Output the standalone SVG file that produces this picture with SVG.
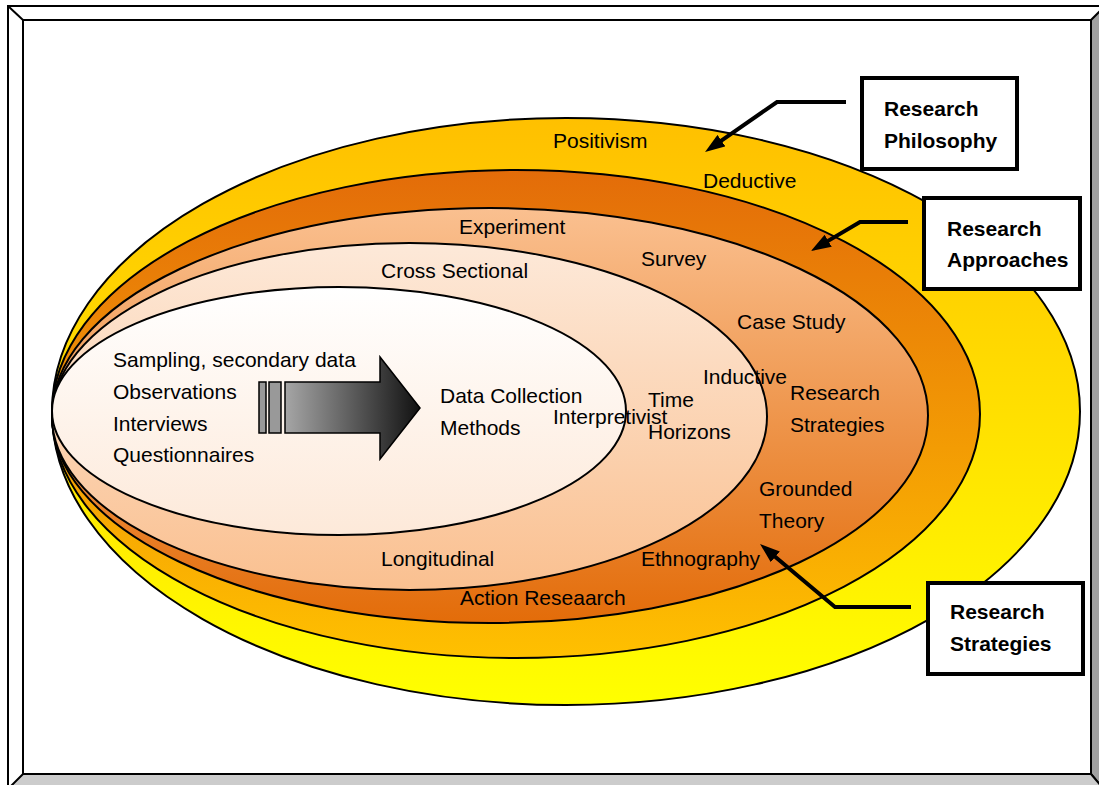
<svg xmlns="http://www.w3.org/2000/svg" width="1099" height="785" viewBox="0 0 1099 785">
<defs>
<style>
.t{font-family:"Liberation Sans",Arial,sans-serif;font-size:21px;fill:#000}
.b{font-family:"Liberation Sans",Arial,sans-serif;font-size:21px;font-weight:bold;fill:#000}
.ring{stroke:#000;stroke-width:2}
.box{fill:#fff;stroke:#000;stroke-width:4}
.con{fill:none;stroke:#000;stroke-width:4;stroke-linejoin:miter}
.fr{stroke:#000;stroke-width:2}
</style>
<linearGradient id="g1" x1="0" y1="0" x2="0" y2="1"><stop offset="0" stop-color="#FFC000"/><stop offset="1" stop-color="#FFFF00"/></linearGradient>
<linearGradient id="g2" x1="0" y1="0" x2="0" y2="1"><stop offset="0" stop-color="#E36C09"/><stop offset="1" stop-color="#FFC000"/></linearGradient>
<linearGradient id="g3" x1="0" y1="0" x2="0" y2="1"><stop offset="0" stop-color="#FAC090"/><stop offset="1" stop-color="#E36C09"/></linearGradient>
<linearGradient id="g4" x1="0" y1="0" x2="0" y2="1"><stop offset="0" stop-color="#FDE9D9"/><stop offset="1" stop-color="#FAC090"/></linearGradient>
<linearGradient id="g5" x1="0" y1="0" x2="0" y2="1"><stop offset="0" stop-color="#FFFFFF"/><stop offset="1" stop-color="#FDE9D9"/></linearGradient>
<linearGradient id="ga" x1="0" y1="0" x2="1" y2="0"><stop offset="0" stop-color="#A6A6A6"/><stop offset="1" stop-color="#111111"/></linearGradient>
<marker id="ah" markerUnits="userSpaceOnUse" markerWidth="20" markerHeight="14" viewBox="0 0 20 14" refX="8" refY="7" orient="auto"><path d="M0,0 L20,7 L0,14 z" fill="#000"/></marker>
</defs>

<g id="frame">
<rect x="8" y="6" width="1110" height="800" fill="#fff" class="fr"/>
<polygon points="1091,20 1118,-7 1118,806 1091,774" fill="#A0A0A0" class="fr"/>
<polygon points="23,774 1091,774 1118,806 -9,806" fill="#CCCCCC" class="fr"/>
<line x1="8" y1="6" x2="23" y2="20" class="fr"/>
<rect x="23" y="20" width="1068" height="754" fill="#fff" class="fr"/>
</g>

<g id="rings">
<ellipse id="ring-philosophy" class="ring" cx="566" cy="411.5" rx="514" ry="293.5" fill="url(#g1)"/>
<ellipse id="ring-approaches" class="ring" cx="516" cy="414" rx="464" ry="244" fill="url(#g2)"/>
<ellipse id="ring-strategies" class="ring" cx="490" cy="415.5" rx="438" ry="207.5" fill="url(#g3)"/>
<ellipse id="ring-time" class="ring" cx="409.5" cy="416.5" rx="357.5" ry="173.5" fill="url(#g4)"/>
<ellipse id="ring-methods" class="ring" cx="339" cy="411" rx="287" ry="124" fill="url(#g5)"/>
</g>

<g id="data-arrow">
<rect x="259" y="382" width="7" height="51" fill="#999" stroke="#000" stroke-width="1.5"/>
<rect x="269" y="382" width="12" height="51" fill="#999" stroke="#000" stroke-width="1.5"/>
<polygon points="285,382 380,382 380,357 420,408 380,459 380,433 285,433" fill="url(#ga)" stroke="#000" stroke-width="1.5"/>
</g>

<g id="labels">
<text class="t" x="553" y="148">Positivism</text>
<text class="t" x="703" y="188">Deductive</text>
<text class="t" x="459" y="234">Experiment</text>
<text class="t" x="641" y="266">Survey</text>
<text class="t" x="381" y="278">Cross Sectional</text>
<text class="t" x="737" y="329">Case Study</text>
<text class="t" x="113" y="367">Sampling, secondary data</text>
<text class="t" x="113" y="399">Observations</text>
<text class="t" x="113" y="431">Interviews</text>
<text class="t" x="113" y="462">Questionnaires</text>
<text class="t" x="703" y="384">Inductive</text>
<text class="t" x="790" y="400">Research</text>
<text class="t" x="790" y="432">Strategies</text>
<text class="t" x="440" y="403">Data Collection</text>
<text class="t" x="440" y="435">Methods</text>
<text class="t" x="648" y="407">Time</text>
<text class="t" x="553" y="424">Interpretivist</text>
<text class="t" x="648" y="439">Horizons</text>
<text class="t" x="759" y="496">Grounded</text>
<text class="t" x="759" y="528">Theory</text>
<text class="t" x="381" y="566">Longitudinal</text>
<text class="t" x="641" y="566">Ethnography</text>
<text class="t" x="460" y="605">Action Reseaarch</text>
</g>

<g id="connectors">
<polyline class="con" points="846,102 777,102 714.9,145.2" marker-end="url(#ah)"/>
<polyline class="con" points="908,222 860,222 821.3,244.9" marker-end="url(#ah)"/>
<polyline class="con" points="911,607 835,607 769.2,551.7" marker-end="url(#ah)"/>
</g>

<g id="box-philosophy">
<rect class="box" x="862" y="78" width="155" height="91"/>
<text class="b" x="884" y="116">Research</text>
<text class="b" x="884" y="148">Philosophy</text>
</g>
<g id="box-approaches">
<rect class="box" x="924" y="198" width="156" height="91"/>
<text class="b" x="947" y="236">Research</text>
<text class="b" x="947" y="267">Approaches</text>
</g>
<g id="box-strategies">
<rect class="box" x="928" y="583" width="155" height="91"/>
<text class="b" x="950" y="619">Research</text>
<text class="b" x="950" y="651">Strategies</text>
</g>
</svg>
